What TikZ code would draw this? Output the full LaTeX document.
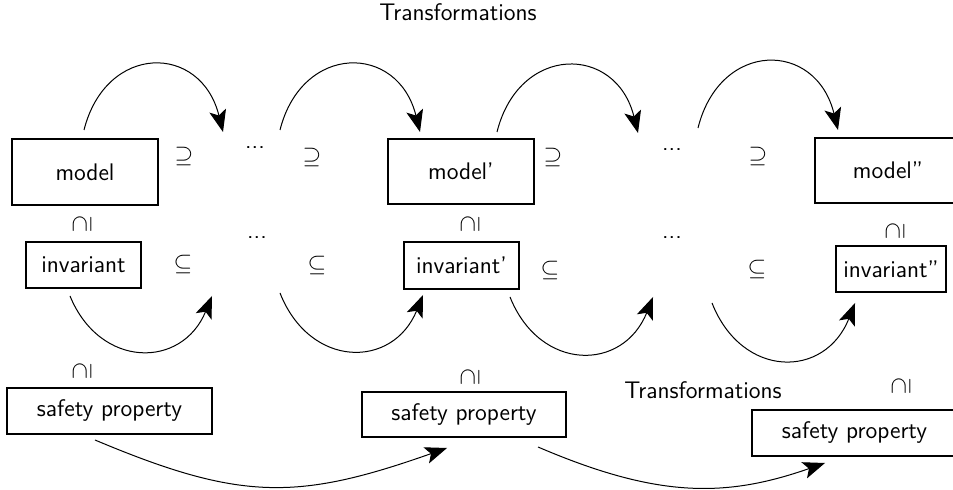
\documentclass[tikz,border=0pt]{standalone}
\usetikzlibrary{arrows.meta}
\begin{document}
\begin{tikzpicture}[x=0.5pt,y=-0.5pt,
  txt/.style={font=\sffamily\fontsize{12}{14}\selectfont},
  box/.style={txt, draw, line width=0.6pt, inner sep=0pt},
  sym/.style={txt, inner sep=0pt},
  arc/.style={line width=0.5pt, -{Stealth[length=11pt,width=8.5pt,inset=2.5pt]}}]
\useasboundingbox (0,0) rectangle (953,490);
\clip (0,0) rectangle (953,490);
% boxes
\node[box, minimum width=73pt, minimum height=33pt] (m1) at (85,172) {model};
\node[box, minimum width=57.5pt, minimum height=23pt] (i1) at (83.5,265) {invariant};
\node[box, minimum width=102.5pt, minimum height=23pt] (s1) at (109.5,411) {safety property};
\node[box, minimum width=73pt, minimum height=32.5pt] (m2) at (461,171.5) {model'};
\node[box, minimum width=57.5pt, minimum height=23.5pt] (i2) at (461.5,265.5) {invariant'};
\node[box, minimum width=102pt, minimum height=22.5pt] (s2) at (464,414.5) {safety property};
\node[box, minimum width=73pt, minimum height=32.5pt] (m3) at (888,170.5) {model''};
\node[box, minimum width=55pt, minimum height=23pt] (i3) at (891,269) {invariant''};
\node[box, minimum width=102.5pt, minimum height=23pt] (s3) at (854.5,433) {safety property};
% relation symbols
\node[sym] (sup1) at (184,157) {$\supseteq$};
\node[sym] (sup2) at (312,158) {$\supseteq$};
\node[sym] (sup3) at (553,158) {$\supseteq$};
\node[sym] (sup4) at (758,157) {$\supseteq$};
\node[sym] (sub1) at (183,265) {$\subseteq$};
\node[sym] (sub2) at (317,266) {$\subseteq$};
\node[sym] (sub3) at (550,271) {$\subseteq$};
\node[sym] (sub4) at (757,270) {$\subseteq$};
\node[sym, rotate=90] (cap1) at (82,224) {$\supseteq$};
\node[sym, rotate=90] (cap2) at (470,224) {$\supseteq$};
\node[sym, rotate=90] (cap3) at (895,231) {$\supseteq$};
\node[sym, rotate=90] (cap4) at (82,371) {$\supseteq$};
\node[sym, rotate=90] (cap5) at (470,377) {$\supseteq$};
\node[sym, rotate=90] (cap6) at (901,386) {$\supseteq$};
% dots
\node[sym] (d1) at (255,148) {...};
\node[sym] (d2) at (257,238) {...};
\node[sym] (d3) at (672,150) {...};
\node[sym] (d4) at (672,238) {...};
% labels
\node[txt] (t1) at (458,12) {Transformations};
\node[txt] (t2) at (703,390) {Transformations};
% arc end points
\coordinate (ta1) at (84,130);  \coordinate (tb1) at (223,132);
\coordinate (ta2) at (280,130); \coordinate (tb2) at (420,132);
\coordinate (ta3) at (497,132); \coordinate (tb3) at (638,133);
\coordinate (ta4) at (698,128); \coordinate (tb4) at (838,130);
\coordinate (ba1) at (70,296);  \coordinate (bb1) at (212,296);
\coordinate (ba2) at (280,293); \coordinate (bb2) at (423,295);
\coordinate (ba3) at (510,297); \coordinate (bb3) at (653,297);
\coordinate (ba4) at (712,303); \coordinate (bb4) at (855,303);
\coordinate (la1) at (95,440);  \coordinate (lb1) at (447,448);
\coordinate (la2) at (538,447); \coordinate (lb2) at (825,463);
% top arcs
\draw[arc] (ta1) .. controls (106,43) and (201,43) .. (tb1);
\draw[arc] (ta2) .. controls (302,43) and (398,43) .. (tb2);
\draw[arc] (ta3) .. controls (519,44) and (616,44) .. (tb3);
\draw[arc] (ta4) .. controls (720,40) and (816,40) .. (tb4);
% bottom arcs
\draw[arc] (ba1) .. controls (100,369) and (182,369) .. (bb1);
\draw[arc] (ba2) .. controls (310,369) and (393,369) .. (bb2);
\draw[arc] (ba3) .. controls (540,372) and (623,372) .. (bb3);
\draw[arc] (ba4) .. controls (742,379) and (825,379) .. (bb4);
% long arcs
\draw[arc] (la1) .. controls (240,501) and (297,501) .. (lb1);
\draw[arc] (la2) .. controls (657,498) and (725,498) .. (lb2);
\end{tikzpicture}
\end{document}
